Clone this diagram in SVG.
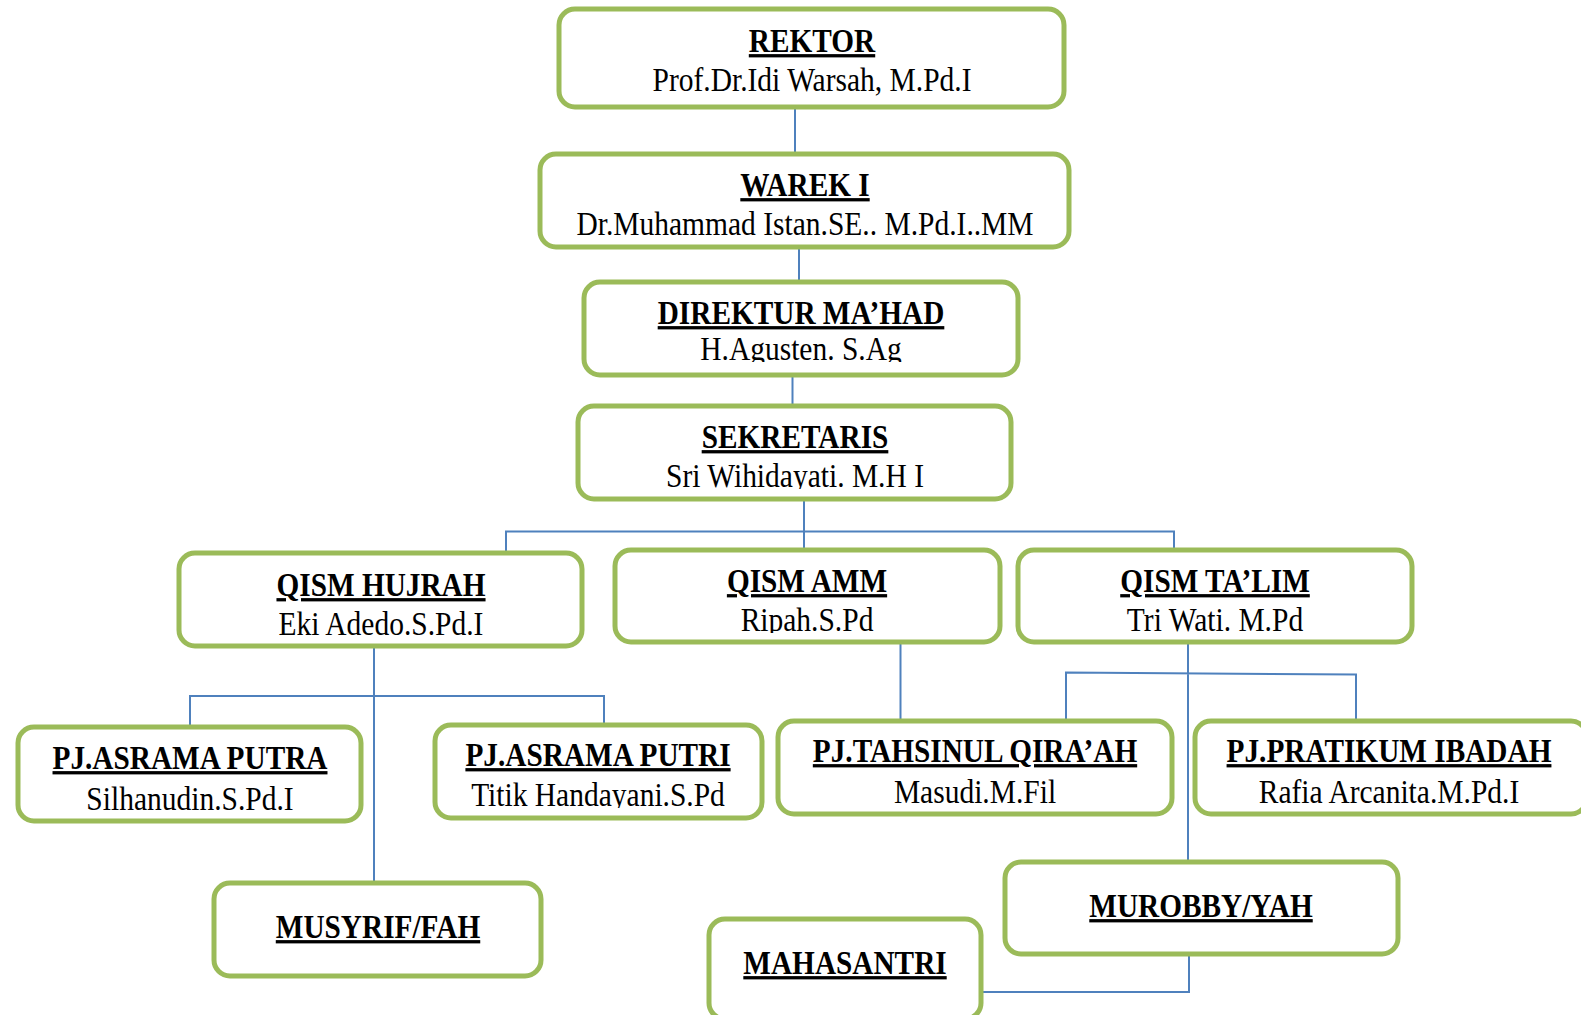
<svg xmlns="http://www.w3.org/2000/svg" width="1581" height="1015" viewBox="0 0 1581 1015">
<style>
.box{fill:#fff;stroke:#9BBB59;stroke-width:5}
.ttl{font-family:"Liberation Serif","Times New Roman",serif;font-weight:bold;font-size:29.3px;text-anchor:middle;text-decoration:underline;fill:#000}
.nm{font-family:"Liberation Serif","Times New Roman",serif;font-size:29.5px;text-anchor:middle;fill:#000}
.con{fill:none;stroke:#4F81BD;stroke-width:2}
</style>
<defs>
<clipPath id="c2"><rect x="540" y="154" width="529" height="83"/></clipPath>
<clipPath id="c3"><rect x="584" y="282" width="434" height="80"/></clipPath>
<clipPath id="c4"><rect x="578" y="406" width="433" height="83"/></clipPath>
<clipPath id="c5"><rect x="179" y="553" width="403" height="84"/></clipPath>
<clipPath id="c6"><rect x="615" y="550" width="385" height="83"/></clipPath>
<clipPath id="c7"><rect x="1018" y="550" width="394" height="83"/></clipPath>
<clipPath id="c8"><rect x="18" y="727" width="343" height="85"/></clipPath>
<clipPath id="c9"><rect x="435" y="725" width="327" height="83"/></clipPath>
</defs>
<rect width="1581" height="1015" fill="#fff"/>
<g id="connectors">
<path class="con" d="M795 106V154"/>
<path class="con" d="M799 247V282"/>
<path class="con" d="M792.5 375V406"/>
<path class="con" d="M804 499V550M506 553V531.5H1174V550"/>
<path class="con" d="M374 646V883M190 727V696H604V725"/>
<path class="con" d="M900.5 642V721"/>
<path class="con" d="M1188 642V862M1066 721V672.5L1356 674.5V721"/>
<path class="con" d="M1189 954V992H981"/>
</g>
<g id="rektor">
<rect class="box" x="559" y="9" width="505" height="98" rx="16"/>
<text class="ttl" transform="translate(812,52) scale(1,1.12)">REKTOR</text>
<text class="nm" transform="translate(812,91) scale(1,1.12)">Prof.Dr.Idi Warsah, M.Pd.I</text>
</g>
<g id="warek">
<rect class="box" x="540" y="154" width="529" height="93" rx="16"/>
<text class="ttl" transform="translate(805,196) scale(1,1.12)">WAREK I</text>
<g clip-path="url(#c2)"><text class="nm" transform="translate(805,235) scale(1,1.12)">Dr.Muhammad Istan.SE.. M.Pd.I..MM</text></g>
</g>
<g id="direktur">
<rect class="box" x="584" y="282" width="434" height="93" rx="16"/>
<text class="ttl" transform="translate(801,324) scale(1,1.12)">DIREKTUR MA’HAD</text>
<g clip-path="url(#c3)"><text class="nm" transform="translate(801,360) scale(1,1.12)">H.Agusten. S.Ag</text></g>
</g>
<g id="sekretaris">
<rect class="box" x="578" y="406" width="433" height="93" rx="16"/>
<text class="ttl" transform="translate(795,448) scale(1,1.12)">SEKRETARIS</text>
<g clip-path="url(#c4)"><text class="nm" transform="translate(795,487) scale(1,1.12)">Sri Wihidayati. M.H I</text></g>
</g>
<g id="qism-hujrah">
<rect class="box" x="179" y="553" width="403" height="93" rx="16"/>
<text class="ttl" transform="translate(381,596) scale(1,1.12)">QISM HUJRAH</text>
<g clip-path="url(#c5)"><text class="nm" transform="translate(381,635) scale(1,1.12)">Eki Adedo.S.Pd.I</text></g>
</g>
<g id="qism-amm">
<rect class="box" x="615" y="550" width="385" height="92" rx="16"/>
<text class="ttl" transform="translate(807,592) scale(1,1.12)">QISM AMM</text>
<g clip-path="url(#c6)"><text class="nm" transform="translate(807,631) scale(1,1.12)">Ripah.S.Pd</text></g>
</g>
<g id="qism-talim">
<rect class="box" x="1018" y="550" width="394" height="92" rx="16"/>
<text class="ttl" transform="translate(1215,592) scale(1,1.12)">QISM TA’LIM</text>
<g clip-path="url(#c7)"><text class="nm" transform="translate(1215,631) scale(1,1.12)">Tri Wati. M.Pd</text></g>
</g>
<g id="pj-asrama-putra">
<rect class="box" x="18" y="727" width="343" height="94" rx="16"/>
<text class="ttl" transform="translate(190,769) scale(1,1.12)">PJ.ASRAMA PUTRA</text>
<g clip-path="url(#c8)"><text class="nm" transform="translate(190,810) scale(1,1.12)">Silhanudin.S.Pd.I</text></g>
</g>
<g id="pj-asrama-putri">
<rect class="box" x="435" y="725" width="327" height="93" rx="16"/>
<text class="ttl" transform="translate(598,766) scale(1,1.12)">PJ.ASRAMA PUTRI</text>
<g clip-path="url(#c9)"><text class="nm" transform="translate(598,806) scale(1,1.12)">Titik Handayani.S.Pd</text></g>
</g>
<g id="pj-tahsinul">
<rect class="box" x="778" y="721" width="394" height="93" rx="16"/>
<text class="ttl" transform="translate(975,762) scale(1,1.12)">PJ.TAHSINUL QIRA’AH</text>
<text class="nm" transform="translate(975,803) scale(1,1.12)">Masudi.M.Fil</text>
</g>
<g id="pj-pratikum">
<rect class="box" x="1195" y="721" width="392" height="93" rx="16"/>
<text class="ttl" transform="translate(1389,762) scale(1,1.12)">PJ.PRATIKUM IBADAH</text>
<text class="nm" transform="translate(1389,803) scale(1,1.12)">Rafia Arcanita.M.Pd.I</text>
</g>
<g id="musyrif">
<rect class="box" x="214" y="883" width="327" height="93" rx="16"/>
<text class="ttl" transform="translate(378,938) scale(1,1.12)">MUSYRIF/FAH</text>
</g>
<g id="murobby">
<rect class="box" x="1005" y="862" width="393" height="92" rx="16"/>
<text class="ttl" transform="translate(1201,917) scale(1,1.12)">MUROBBY/YAH</text>
</g>
<g id="mahasantri">
<rect class="box" x="709" y="919" width="272" height="100" rx="16"/>
<text class="ttl" transform="translate(845,974) scale(1,1.12)">MAHASANTRI</text>
</g>
</svg>
